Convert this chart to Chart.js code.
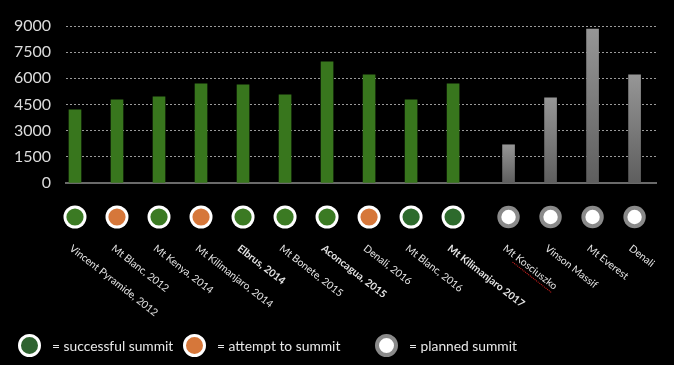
<!DOCTYPE html>
<html><head><meta charset="utf-8">
<script src="https://cdn.jsdelivr.net/npm/chart.js@4.4.1/dist/chart.umd.min.js"></script>
<style>
html,body{margin:0;padding:0;background:#000;}
#wrap{position:relative;width:674px;height:365px;overflow:hidden;background:#000;}
#c{position:absolute;left:0;top:0;}
.leg{position:absolute;top:334px;height:23px;display:flex;align-items:center;font-family:Lato,'Noto Sans',sans-serif;font-size:13.8px;color:#e8e8e8;white-space:nowrap;}
.dot{box-sizing:border-box;width:23px;height:23px;border-radius:50%;margin-right:11px;}
</style></head>
<body><div id="wrap"><canvas id="c" width="674" height="365"></canvas>
<div class="leg" style="left:18px"><span class="dot" style="background:#2f6330;border:3px solid #fff"></span>= successful summit</div>
<div class="leg" style="left:183px"><span class="dot" style="background:#d6773a;border:3px solid #fff"></span>= attempt to summit</div>
<div class="leg" style="left:375px"><span class="dot" style="background:#fff;border:4px solid #8a8a8a"></span>= planned summit</div>
</div>
<script>
const categories = ['Vincent Pyramide, 2012','Mt Blanc, 2012','Mt Kenya, 2014','Mt Kilimanjaro, 2014','Elbrus, 2014','Mt Bonete, 2015','Aconcagua, 2015','Denali, 2016','Mt Blanc, 2016','Mt Kilimanjaro 2017','Mt Kosciuszko','Vinson Massif','Mt Everest','Denali'];
const elevations = [4190, 4770, 4940, 5680, 5630, 5050, 6940, 6200, 4770, 5680, 2190, 4880, 8830, 6200];
const outcomes = ['success','attempt','success','attempt','success','success','success','attempt','success2','success2','planned','planned','planned','planned'];
const boldLabels = [false,false,false,false,true,false,true,false,false,true,false,false,false,false];
const yTicks = [0,1500,3000,4500,6000,7500,9000];

// layout
const PLANNED_GAP = 0.32;
const xPos = categories.map((c,i)=> i + (outcomes[i]==='planned' ? PLANNED_GAP : 0));
const dotColors = {success:'#3b7a23', attempt:'#d6773a', success2:'#2d6a2c'};

const decor = {
  id:'decor',
  afterDraw(chart){
    const ctx = chart.ctx, xs = chart.scales.x;
    ctx.save();
    categories.forEach((lab,i)=>{
      const cx = xs.getPixelForValue(xPos[i]);
      const cy = 217;
      if (outcomes[i]==='planned'){
        ctx.beginPath(); ctx.arc(cx,cy,11.2,0,Math.PI*2); ctx.fillStyle='#8a8a8a'; ctx.fill();
        ctx.beginPath(); ctx.arc(cx,cy,7.2,0,Math.PI*2); ctx.fillStyle='#ffffff'; ctx.fill();
      } else {
        ctx.beginPath(); ctx.arc(cx,cy,11.5,0,Math.PI*2); ctx.fillStyle='#ffffff'; ctx.fill();
        ctx.beginPath(); ctx.arc(cx,cy,8.6,0,Math.PI*2); ctx.fillStyle=dotColors[outcomes[i]]; ctx.fill();
      }
      ctx.save();
      ctx.translate(cx-1, 243);
      ctx.rotate(38*Math.PI/180);
      ctx.font = (boldLabels[i]?'bold ':'') + '10.3px Lato, "Noto Sans", sans-serif';
      ctx.fillStyle = '#e4e4e4';
      ctx.textAlign='left'; ctx.textBaseline='top';
      ctx.fillText(lab,0,0);
      if (lab==='Mt Kosciuszko'){
        const x0 = ctx.measureText('Mt ').width, x1 = ctx.measureText(lab).width;
        ctx.strokeStyle='#e02020'; ctx.lineWidth=1; ctx.setLineDash([1,1]);
        ctx.beginPath(); ctx.moveTo(x0,12); ctx.lineTo(x1,12); ctx.stroke();
      }
      ctx.restore();
    });
    ctx.restore();
  }
};

new Chart(document.getElementById('c'), {
  type:'bar',
  data:{ datasets:[{
    data: categories.map((c,i)=>({x:xPos[i], y:elevations[i]})),
    barThickness:12,
    borderWidth:0,
    backgroundColor:(c)=>{
      const i = c.dataIndex;
      if (i===undefined || outcomes[i]!=='planned') return '#38761d';
      const ch = c.chart;
      if (!ch.chartArea) return '#777';
      const top = ch.scales.y.getPixelForValue(elevations[i]);
      const bot = ch.scales.y.getPixelForValue(0);
      const g = ch.ctx.createLinearGradient(0,top,0,bot);
      g.addColorStop(0,'#969696'); g.addColorStop(1,'#5e5e5e');
      return g;
    }
  }]},
  options:{
    responsive:false, animation:false,
    layout:{padding:{top:26,right:18,bottom:182,left:0}},
    plugins:{legend:{display:false}, tooltip:{enabled:false}},
    scales:{
      x:{type:'linear', min:-0.214, max:13.83, offset:false,
        ticks:{display:false}, grid:{display:false, drawTicks:false, offset:false},
        border:{display:true, color:'#6a6a6a', width:2}},
      y:{min:0, max:9000,
        afterBuildTicks:(s)=>{ s.ticks = yTicks.map(v=>({value:v})); },
        afterFit:(s)=>{ s.width = 66; },
        ticks:{color:'#dcdcdc', padding:15, callback:(v)=>String(v), font:{family:'Lato, "Noto Sans", sans-serif', size:16}},
        grid:{drawTicks:false, lineWidth:1, color:(c)=> c.tick && c.tick.value===0 ? 'rgba(0,0,0,0)' : '#9a9a9a'},
        border:{display:false, dash:[2,2]}}
    }
  },
  plugins:[decor]
});
</script>
</body></html>
